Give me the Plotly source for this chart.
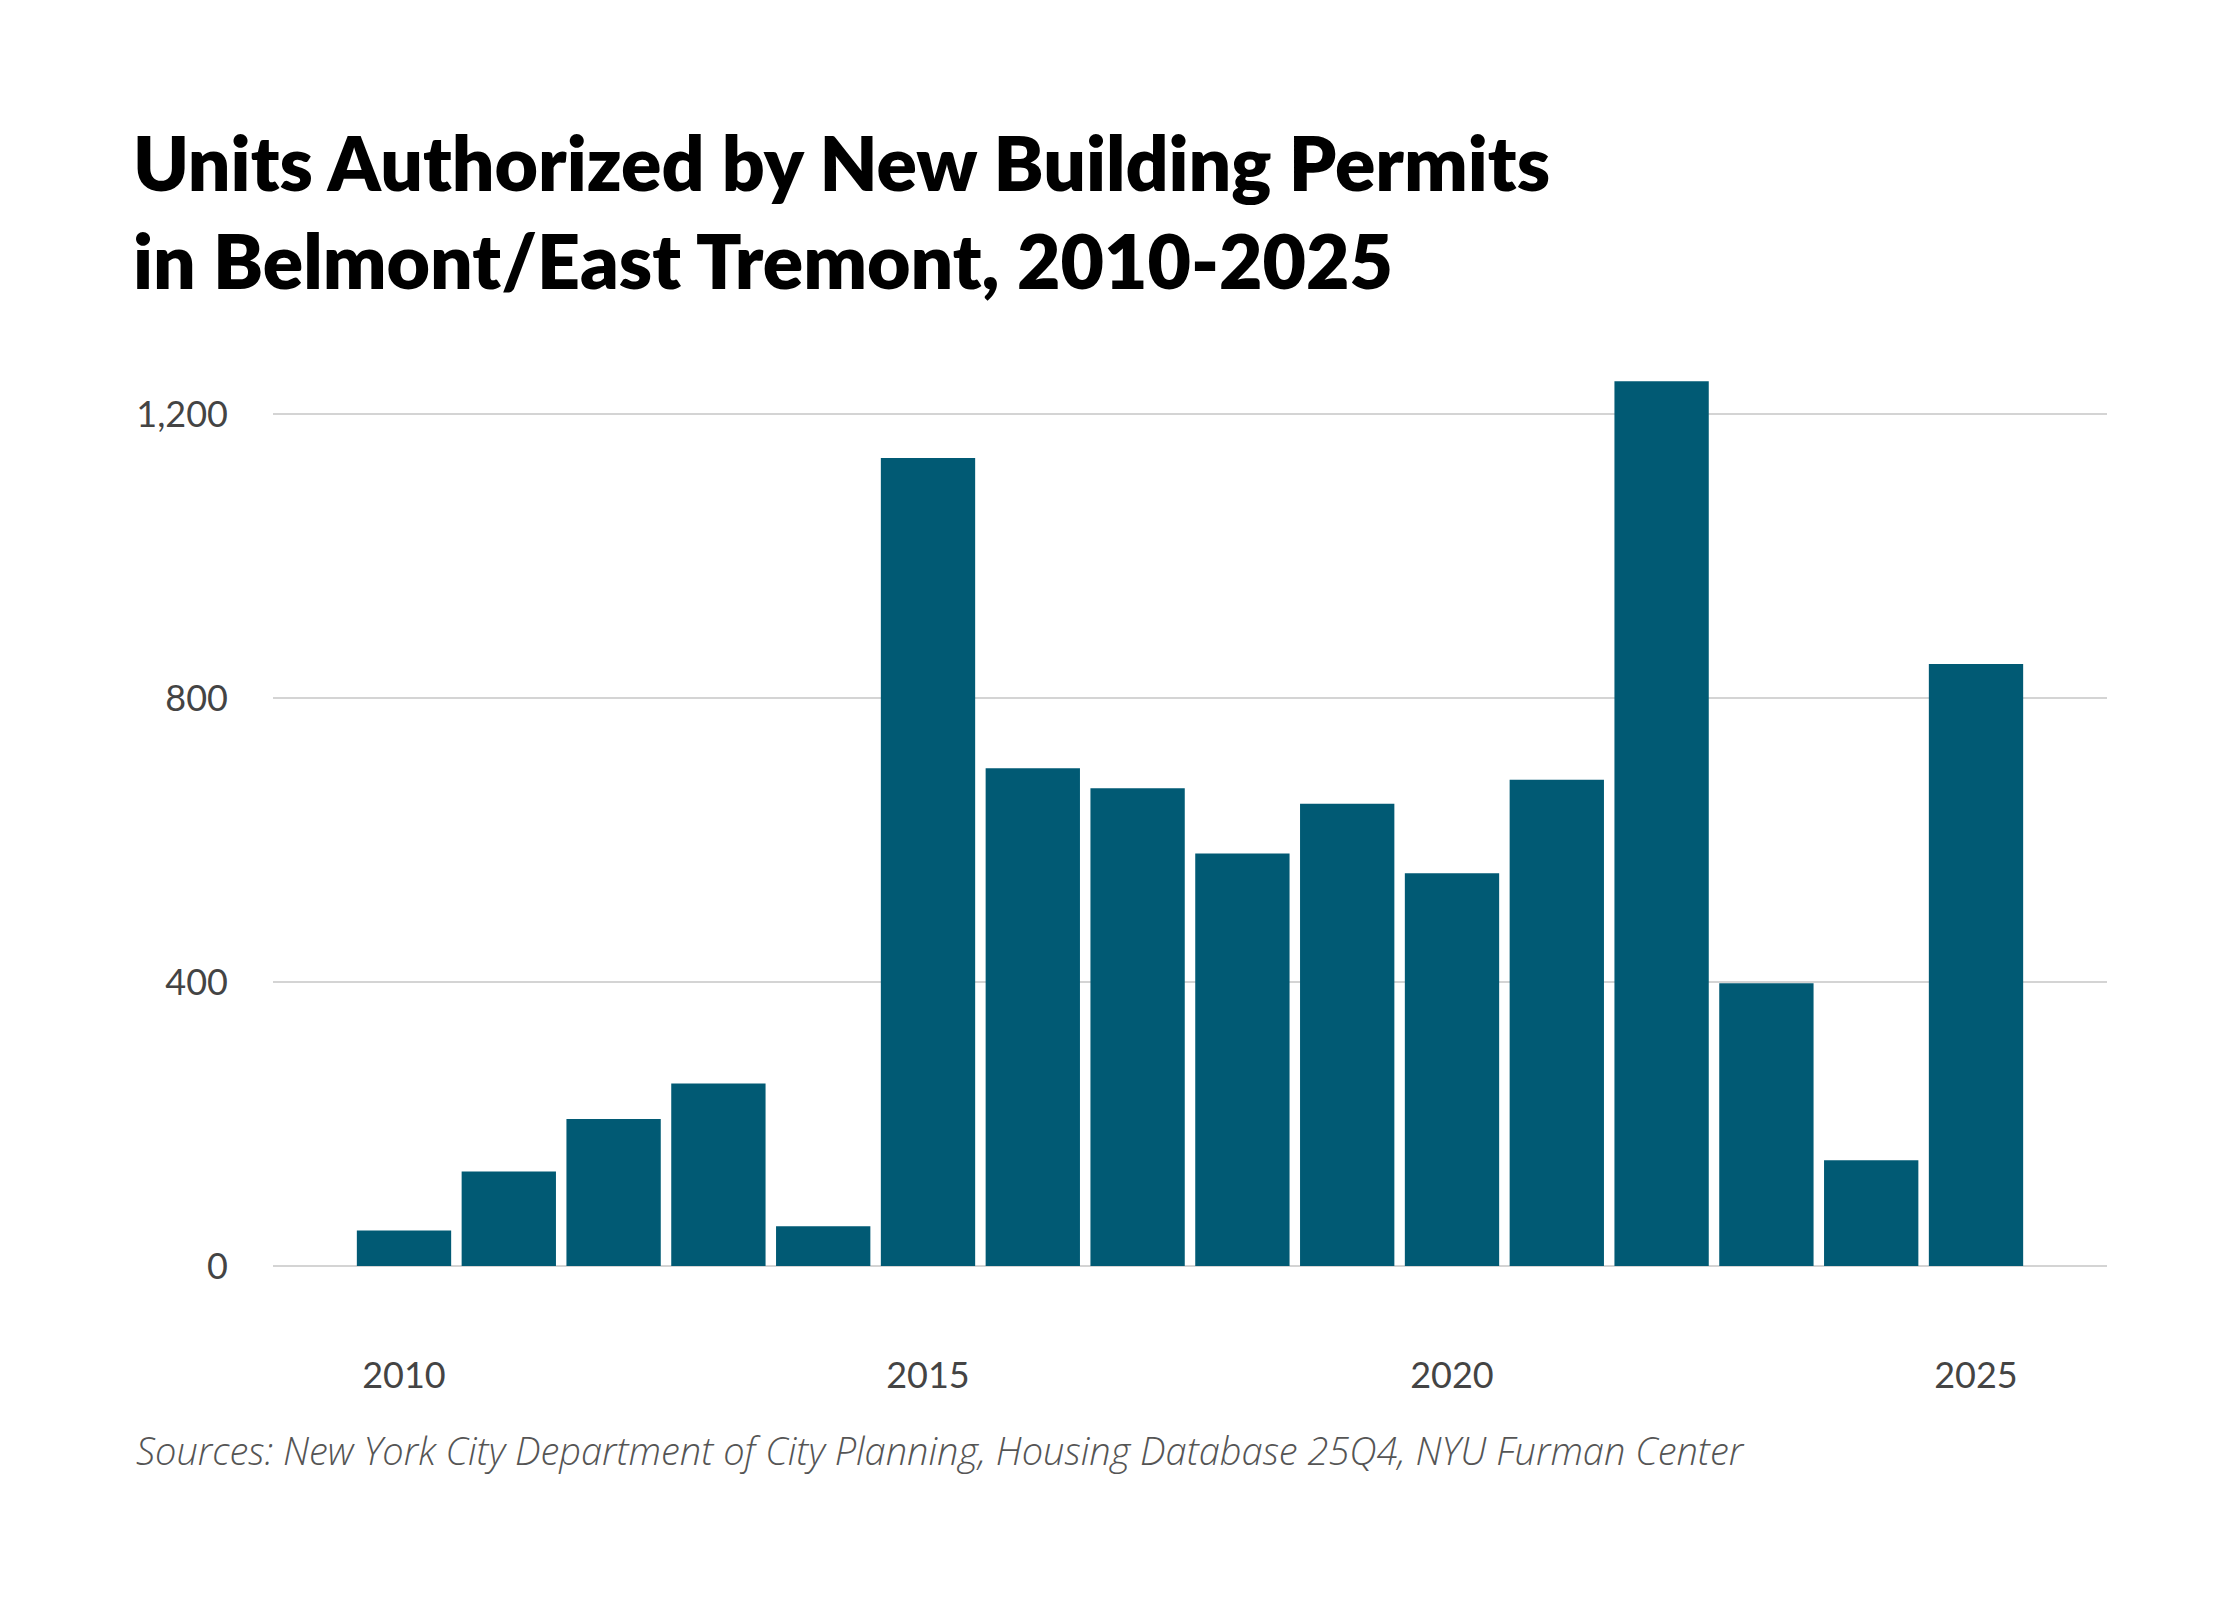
import plotly.graph_objects as go

# units authorized by new building permits
years = list(range(2010, 2026))
units = [50, 133, 207, 257, 56, 1138, 701, 673, 581, 651, 553, 685, 1246, 398, 149, 848]

x_ticks = [2010, 2015, 2020, 2025]
y_ticks = [0, 400, 800, 1200]
y_tick_text = ["0", "400", "800", "1,200"]

title = "Units Authorized by New Building Permits<br>in Belmont/East Tremont, 2010-2025"
source = "Sources: New York City Department of City Planning, Housing Database 25Q4, NYU Furman Center"

# page body adds ~8px offset, so the figure is laid out 8px up/left
W, H = 2240, 1600
L, R, T, B = 265, 141, 362, 308
plot_w, plot_h = W - L - R, H - T - B

fig = go.Figure(go.Bar(x=years, y=units, marker_color="#015a74", marker_line_width=0))

fig.update_layout(
    width=W, height=H,
    paper_bgcolor="white", plot_bgcolor="white",
    margin=dict(l=L, r=R, t=T, b=B),
    bargap=0.1,
    showlegend=False,
    title=dict(
        text=title,
        x=125 / W, xanchor="left", xref="container",
        y=1 - 183 / H, yanchor="top", yref="container",
        font=dict(family="Lato", size=75, color="#000000", weight=800),
    ),
    annotations=[dict(
        text=source, xref="paper", yref="paper",
        x=(126 - L) / plot_w, y=((H - B) - 1442) / plot_h,
        xanchor="left", yanchor="middle", showarrow=False,
        font=dict(family="Open Sans", size=38, color="#555555", style="italic", weight=300),
    )],
)

fig.update_xaxes(
    range=[2008.75, 2026.25],
    tickvals=x_ticks, ticktext=[str(v) for v in x_ticks],
    showgrid=False, zeroline=False, showline=False, ticks="",
    ticklabelstandoff=51,
    tickfont=dict(family="Lato", size=36, color="#444444"),
)
fig.update_yaxes(
    range=[-48, 1262],
    tickvals=y_ticks, ticktext=y_tick_text,
    showgrid=True, gridcolor="#d4d4d4", gridwidth=2,
    zeroline=False, showline=False, ticks="",
    ticklabelstandoff=44,
    tickfont=dict(family="Lato", size=36, color="#444444"),
)

fig.write_html("out.html")
